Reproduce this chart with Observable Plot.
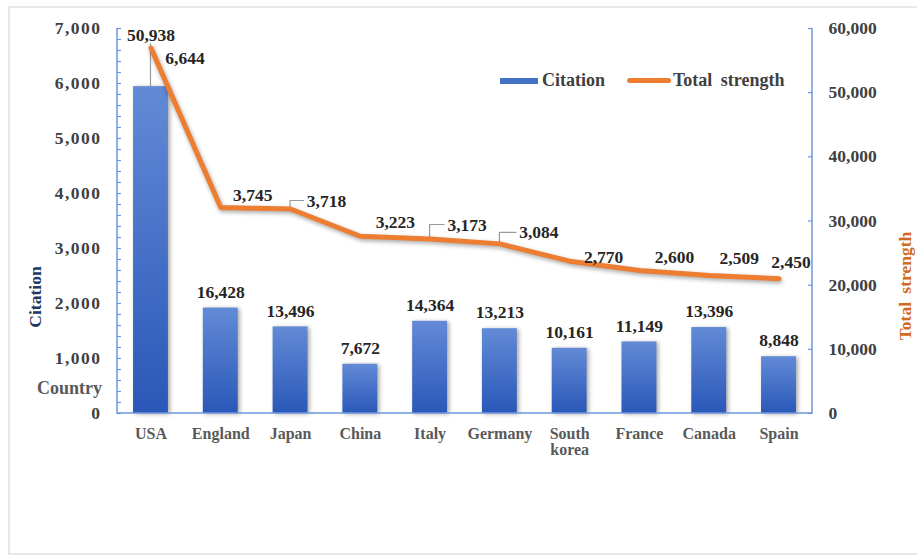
<!DOCTYPE html>
<html>
<head>
<meta charset="utf-8">
<script src="https://cdn.jsdelivr.net/npm/d3@7"></script>
<script src="https://cdn.jsdelivr.net/npm/@observablehq/plot@0.6"></script>
<style>
  html, body { margin: 0; padding: 0; background: #fff; overflow: hidden; }
  #wrap { position: relative; width: 917px; height: 556px; font-family: "Liberation Serif", "Times New Roman", serif; font-weight: bold; }
  #border { position: absolute; left: 8px; top: 6px; width: 1000px; height: 549px; border: 2px solid #e8e8e8; box-sizing: border-box; }
  #chart { position: absolute; left: 0; top: 0; }
  .abs { position: absolute; white-space: nowrap; }
  .rot { transform: translate(-50%, -50%) rotate(-90deg); }
</style>
</head>
<body>
<div id="wrap">
  <div id="border"></div>
  <div id="chart"></div>
  <div class="abs rot" style="left:35px; top:297px; font-size:17.5px; color:#203864;">Citation</div>
  <div class="abs rot" style="left:905px; top:286px; font-size:17.5px; color:#d2691e; word-spacing:4px;">Total strength</div>
  <div class="abs" style="left:37px; top:378px; font-size:18px; color:#595959;">Country</div>
  <div class="abs" style="left:500px; top:78px; width:38px; height:6px; background:#4472c4;"></div>
  <div class="abs" style="left:542px; top:70px; font-size:18px; line-height:20px; color:#404040;">Citation</div>
  <div class="abs" style="left:627px; top:78px; width:44px; height:5px; border-radius:3px; background:#ed7d31;"></div>
  <div class="abs" style="left:673px; top:70px; font-size:18px; line-height:20px; color:#404040; word-spacing:4px;">Total strength</div>
</div>
<script>
// ---- data ----
const countries = ["USA", "England", "Japan", "China", "Italy", "Germany", "South korea", "France", "Canada", "Spain"];
const citations = [50938, 16428, 13496, 7672, 14364, 13213, 10161, 11149, 13396, 8848];
const totalStrength = [6644, 3745, 3718, 3223, 3173, 3084, 2770, 2600, 2509, 2450];
const leftTicks = [0, 1000, 2000, 3000, 4000, 5000, 6000, 7000];
const rightTicks = [0, 10000, 20000, 30000, 40000, 50000, 60000];
const leftMax = 7000;
const rightMax = 60000;

// ---- helpers / styling ----
const fmt = d3.format(",");
const toLeft = v => v * leftMax / rightMax;
const fromLeft = v => Math.round(v * rightMax / leftMax);
const data = countries.map((c, i) => ({country: c, citation: citations[i], strength: totalStrength[i]}));

const W = 917, H = 556, ML = 117, MR = 105, MT = 28, MB = 143;
const PW = W - ML - MR;
const AXIS = "#6f95e0";
const FONT = "'Liberation Serif', 'Times New Roman', serif";

// label nudges (pixels)
const barLabelDy = {USA: -51};
const lineLabelNudge = {
  "USA": [34, 10], "England": [32, -12], "Japan": [36, -8], "China": [35, -14], "Italy": [37, -14],
  "Germany": [39, -11], "South korea": [34, -4], "France": [35, -13], "Canada": [30, -17], "Spain": [12, -16]
};
const bracketed = ["Japan", "Italy", "Germany"];

const defs = () => {
  const d = d3.create("svg:defs");
  const lg = d.append("linearGradient").attr("id", "barGrad").attr("x1", 0).attr("y1", 0).attr("x2", 0).attr("y2", 1);
  lg.append("stop").attr("offset", "0%").attr("stop-color", "#628ad6");
  lg.append("stop").attr("offset", "100%").attr("stop-color", "#2a58b8");
  return d.node();
};

const axisLines = (index, scales, values, dim) => {
  const g = d3.create("svg:g").attr("fill", "none").attr("stroke", AXIS).attr("stroke-width", 1.5);
  g.append("path").attr("d", `M${dim.marginLeft},${dim.marginTop}V${dim.height - dim.marginBottom}H${dim.width - dim.marginRight}V${dim.marginTop}`);
  return g.node();
};

const leaders = (index, scales) => {
  const {x, y} = scales;
  const step = x(countries[1]) - x(countries[0]);
  const bw = typeof x.bandwidth === "function" ? x.bandwidth() : step * 0.5;
  const cx = c => x(c) + bw / 2;
  const g = d3.create("svg:g").attr("fill", "none").attr("stroke", "#9a9a9a").attr("stroke-width", 1.2);
  const usa = data[0];
  const top = y(toLeft(usa.citation));
  g.append("path").attr("d", `M${cx(usa.country)},${top}V${top + barLabelDy.USA + 8}`);
  for (const d of data.filter(d => bracketed.includes(d.country))) {
    const px = cx(d.country), py = y(d.strength);
    const [dx, dy] = lineLabelNudge[d.country];
    g.append("path").attr("d", `M${px},${py}V${py + dy}H${px + dx - 22}`);
  }
  return g.node();
};

const chart = Plot.plot({
  width: W, height: H,
  marginLeft: ML, marginRight: MR, marginTop: MT, marginBottom: MB,
  style: {fontFamily: FONT, fontWeight: "bold", background: "transparent", overflow: "visible"},
  x: {type: "band", domain: countries, paddingInner: 0.5, paddingOuter: 0.23, round: false},
  y: {domain: [0, leftMax]},
  marks: [
    defs,
    Plot.barY(data, {x: "country", y: d => toLeft(d.citation), fill: "url(#barGrad)"}),
    // minor/major ticks (inward)
    Plot.ruleY(d3.range(0, leftMax + 1, 200), {stroke: AXIS, strokeWidth: 1.2, insetRight: PW - 4}),
    Plot.ruleY(rightTicks.map(toLeft), {stroke: AXIS, strokeWidth: 1.2, insetLeft: PW - 4}),
    axisLines,
    leaders,
    Plot.line(data, {x: "country", y: "strength", stroke: "#ed7d31", strokeWidth: 5, strokeLinejoin: "round", strokeLinecap: "round"}),
    Plot.axisY({anchor: "left", ticks: leftTicks, tickSize: 0, tickPadding: 16, tickFormat: fmt, label: null, fontSize: 17.5, fill: "#404040"}),
    Plot.axisY(rightTicks.map(toLeft), {anchor: "right", tickSize: 0, tickPadding: 16, tickFormat: v => fmt(fromLeft(v)), label: null, fontSize: 17.5, fill: "#404040"}),
    Plot.axisX({tickSize: 0, tickPadding: 14, label: null, fontSize: 16, fill: "#595959", tickFormat: d => d.replace(" ", "\n")}),
    Plot.text(data.filter(d => !(d.country in barLabelDy)), {x: "country", y: d => toLeft(d.citation), text: d => fmt(d.citation), dy: -16, fontSize: 17.5, fill: "#262626"}),
    ...data.filter(d => d.country in barLabelDy).map(d =>
      Plot.text([d], {x: "country", y: v => toLeft(v.citation), text: v => fmt(v.citation), dy: barLabelDy[d.country], fontSize: 17.5, fill: "#262626"})),
    ...data.map(d => Plot.text([d], {x: "country", y: "strength", text: v => fmt(v.strength),
      dx: lineLabelNudge[d.country][0], dy: lineLabelNudge[d.country][1], fontSize: 17.5, fill: "#262626"}))
  ]
});

const sel = d3.select(chart);
sel.selectAll('g[aria-label="bar"]').style("filter", "drop-shadow(2px 1px 2px rgba(0,0,0,0.35))");
sel.selectAll('g[aria-label="line"]').style("filter", "drop-shadow(1px 2px 2px rgba(0,0,0,0.35))");
sel.selectAll('g[aria-label="y-axis tick label"][text-anchor="end"]').style("letter-spacing", "1.5px");
document.getElementById("chart").appendChild(chart);
</script>
</body>
</html>
